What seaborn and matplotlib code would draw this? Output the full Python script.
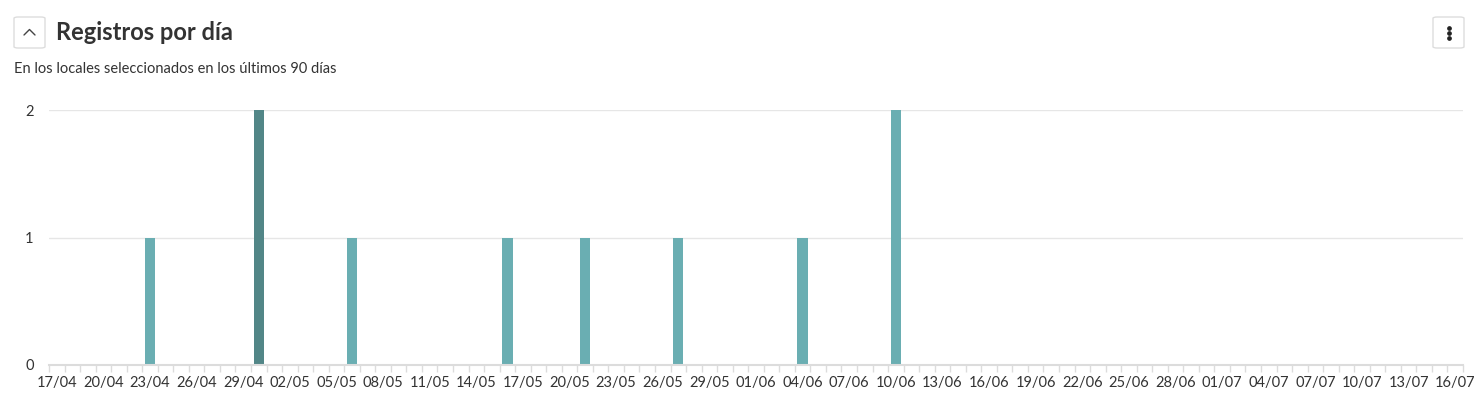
import numpy as np
import pandas as pd
import seaborn as sns
import matplotlib.pyplot as plt
from matplotlib.patches import FancyBboxPatch
from matplotlib.lines import Line2D

# data (days with records, rest are zero)
start_day = "2024-04-17"
end_day = "2024-07-16"
record_days = ["2024-04-23", "2024-04-30", "2024-05-06", "2024-05-16",
               "2024-05-21", "2024-05-27", "2024-06-04", "2024-06-10"]
record_counts = [1, 2, 1, 1, 1, 1, 1, 2]
highlight_day = "2024-04-30"   # bar shown darker (hovered)

title = "Registros por día"
subtitle = "En los locales seleccionados en los últimos 90 días"

days = pd.date_range(start_day, end_day, freq="D")
counts = pd.Series(record_counts, index=pd.to_datetime(record_days)).reindex(days, fill_value=0)
df = pd.DataFrame({
    "dia": days.strftime("%d/%m"),
    "registros": counts.values,
    "hl": np.where(days == pd.Timestamp(highlight_day), "on", "off"),
})

sns.set_theme(style="white")
plt.rcParams["font.family"] = ["Lato", "DejaVu Sans"]

W, H = 1481, 404
fig = plt.figure(figsize=(W / 100, H / 100), dpi=100)
ax = fig.add_axes([49 / W, (H - 365) / H, (1463 - 49) / W, 255 / H])

sns.barplot(data=df, x="dia", y="registros", hue="hl", dodge=False, width=0.66,
            palette={"off": "#6aaeb2", "on": "#528687"}, legend=False, ax=ax,
            saturation=1, edgecolor="none")

ax.set_ylim(0, 2)
ax.set_xlim(-0.5, len(df) - 0.5)
ax.set_yticks([0, 1, 2])
ax.set_yticklabels(["0", "1", "2"])
ax.set_xlabel("")
ax.set_ylabel("")
for yv in [1, 2]:
    ax.axhline(yv, color="#e6e6e6", lw=1, zorder=0)

pos = np.arange(0, len(df), 3)
ax.set_xticks(pos)
ax.set_xticklabels(df["dia"].iloc[pos])
ax.set_xticks(np.arange(-0.5, len(df), 1), minor=True)
ax.tick_params(axis="x", which="major", length=0, pad=8, labelsize=10.5, labelcolor="#333333")
ax.tick_params(axis="x", which="minor", length=5, width=1, color="#dcdcdc", bottom=True)
ax.tick_params(axis="y", length=0, pad=11, labelsize=10.5, labelcolor="#333333")

for s in ["top", "right", "left"]:
    ax.spines[s].set_visible(False)
ax.spines["bottom"].set_color("#dcdcdc")
ax.spines["bottom"].set_linewidth(1.5)

# header
def fx(px):
    return px / W

def fy(py):
    return 1 - py / H

for x0 in [14, 1433]:
    box = FancyBboxPatch((fx(x0), fy(48)), fx(31), 31 / H, boxstyle="round,pad=0,rounding_size=0.003",
                         transform=fig.transFigure, fc="white", ec="#dddddd", lw=1)
    fig.add_artist(box)
fig.add_artist(Line2D([fx(24), fx(29.5), fx(35)], [fy(35), fy(29.5), fy(35)],
                      transform=fig.transFigure, color="#444444", lw=1))
for yy in [27.5, 32.5, 37.5]:
    fig.add_artist(Line2D([fx(1448.5)], [fy(yy)], transform=fig.transFigure,
                          marker="o", ms=2.4, color="#222222", lw=0))

fig.text(fx(56), fy(32), title, fontsize=17, fontweight="bold", color="#333333", va="center", ha="left")
fig.text(fx(14), fy(69), subtitle, fontsize=10.5, color="#333333", va="center", ha="left")

fig.savefig("out.png", dpi=100)
